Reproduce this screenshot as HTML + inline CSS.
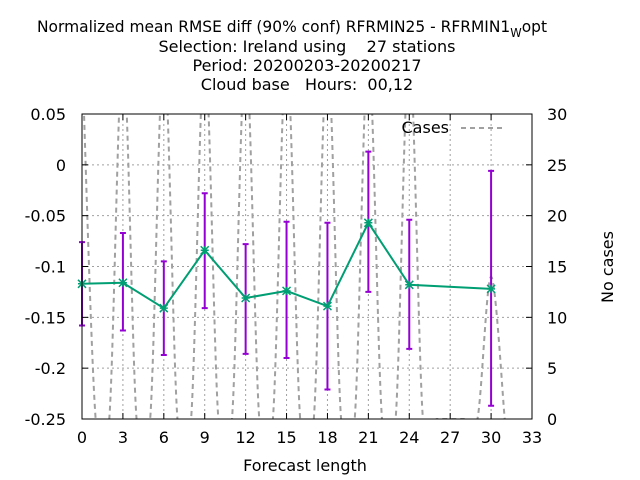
<!DOCTYPE html>
<html><head><meta charset="utf-8"><style>
body{margin:0;background:#fff;}
svg{display:block;font-family:"DejaVu Sans","Liberation Sans",sans-serif;}
text{white-space:pre;}
</style></head><body>
<svg id="chart" width="640" height="480" xmlns="http://www.w3.org/2000/svg">
<defs><clipPath id="plotclip"><rect x="82" y="114" width="450" height="305"/></clipPath></defs>
<g font-size="16" text-anchor="middle" fill="#000">
<text x="292" y="32" textLength="510" lengthAdjust="spacingAndGlyphs">Normalized mean RMSE diff (90% conf) RFRMIN25 - RFRMIN1<tspan font-size="12" dy="5">W</tspan><tspan dy="-5">opt</tspan></text>
<text x="307" y="52" xml:space="preserve">Selection: Ireland using    27 stations</text>
<text x="307" y="71">Period: 20200203-20200217</text>
<text x="307" y="90" xml:space="preserve">Cloud base   Hours:  00,12</text>
</g>
<g id="grid"></g>
<g id="cases" clip-path="url(#plotclip)"></g>
<g id="series"></g>
<rect x="82" y="114" width="450" height="305" fill="none" stroke="#000" stroke-width="1"/>
<g id="axes" font-size="16" fill="#000"></g>
<text x="305" y="471" font-size="16" text-anchor="middle">Forecast length</text>
<text transform="translate(613,267) rotate(-90)" font-size="16" text-anchor="middle">No cases</text>
<g>
<text x="449" y="133" font-size="16" text-anchor="end">Cases</text>
<line x1="461" y1="128" x2="505" y2="128" stroke="#a0a0a0" stroke-width="2" stroke-dasharray="5,4"/>
</g>
</svg>
<script>
const xs=[0,3,6,9,12,15,18,21,24,30];
const means=[-0.117,-0.116,-0.141,-0.084,-0.131,-0.124,-0.139,-0.057,-0.118,-0.122];
const lows=[-0.158,-0.163,-0.187,-0.141,-0.186,-0.190,-0.221,-0.125,-0.181,-0.237];
const highs=[-0.076,-0.067,-0.095,-0.028,-0.078,-0.056,-0.057,0.013,-0.054,-0.006];
const caseHours=[0,1,2,3,4,5,6,7,8,9,10,11,12,13,14,15,16,17,18,19,20,21,22,23,24,25,26,27,28,29,30,31];
const caseCounts=[36,0,0,36,0,0,36,0,0,36,0,0,36,0,0,36,0,0,36,0,0,36,0,0,36,0,0,0,0,0,14,0];
const xTicks=[0,3,6,9,12,15,18,21,24,27,30,33];
const yTicks=[0.05,0,-0.05,-0.1,-0.15,-0.2,-0.25];
const yTickLabels=["0.05","0","-0.05","-0.1","-0.15","-0.2","-0.25"];
const y2Ticks=[0,5,10,15,20,25,30];

const NS="http://www.w3.org/2000/svg";
const X=v=>82+v/33*450;
const Y=v=>114+(0.05-v)/0.3*305;
const Y2=v=>419-v/30*305;
function mk(tag,attrs,parent){const e=document.createElementNS(NS,tag);for(const k in attrs)e.setAttribute(k,attrs[k]);parent.appendChild(e);return e;}
const grid=document.getElementById('grid'),axes=document.getElementById('axes'),cases=document.getElementById('cases'),series=document.getElementById('series');

xTicks.forEach(t=>{
 if(t>0&&t<33){const g=mk('line',{x1:X(t),x2:X(t),y1:114,y2:419,stroke:'#a0a0a0','stroke-width':1,'stroke-dasharray':'2,3'},grid);
 
 }
 const tk=mk('path',{d:`M${X(t)},419v-6M${X(t)},114v6`,stroke:'#000'},axes);
 
 
 const l=mk('text',{x:X(t),y:443,'text-anchor':'middle'},axes);l.textContent=t;
 
 
});
yTicks.forEach((t,i)=>{
 if(i>0&&i<yTicks.length-1){const g=mk('line',{x1:82,x2:532,y1:Y(t),y2:Y(t),stroke:'#a0a0a0','stroke-width':1,'stroke-dasharray':'2,3'},grid);
 
 }
 const tk=mk('path',{d:`M82,${Y(t)}h6`,stroke:'#000'},axes);
 
 
 const l=mk('text',{x:66,y:Y(t)+6,'text-anchor':'end'},axes);l.textContent=yTickLabels[i];
 
 
});
y2Ticks.forEach(t=>{
 const tk=mk('path',{d:`M532,${Y2(t)}h-6`,stroke:'#000'},axes);
 
 
 const l=mk('text',{x:547,y:Y2(t)+6,'text-anchor':'start'},axes);l.textContent=t;
 
 
});

const pts=caseHours.map((h,i)=>[X(h),Y2(caseCounts[i])]);
let d=`M${pts[0][0]},${pts[0][1]}`;
for(let i=0;i<pts.length-1;i++){
 const p0=pts[Math.max(i-1,0)],p1=pts[i],p2=pts[i+1],p3=pts[Math.min(i+2,pts.length-1)];
 const c1=[p1[0]+(p2[0]-p0[0])/6,p1[1]+(p2[1]-p0[1])/6];
 const c2=[p2[0]-(p3[0]-p1[0])/6,p2[1]-(p3[1]-p1[1])/6];
 d+=`C${c1[0]},${c1[1]} ${c2[0]},${c2[1]} ${p2[0]},${p2[1]}`;
}
const cl=mk('path',{d:d,fill:'none',stroke:'#a0a0a0','stroke-width':2,'stroke-dasharray':'5,4'},cases);



xs.forEach((x,i)=>{
 const px=X(x),a=Y(highs[i]),b=Y(lows[i]);
 const e=mk('path',{d:`M${px},${a}V${b}M${px-3},${a}h6M${px-3},${b}h6`,stroke:'#9400d3','stroke-width':2,fill:'none'},series);
 
 
});
const ln=mk('polyline',{points:xs.map((x,i)=>`${X(x)},${Y(means[i])}`).join(' '),fill:'none',stroke:'#009e73','stroke-width':2},series);


xs.forEach((x,i)=>{
 const px=X(x),py=Y(means[i]);
 const m=mk('path',{d:`M${px-4},${py-4}l8,8M${px-4},${py+4}l8,-8M${px-4},${py}h8M${px},${py-4}v8`,stroke:'#009e73','stroke-width':1.5},series);
 
 
});
</script>
</body></html>
